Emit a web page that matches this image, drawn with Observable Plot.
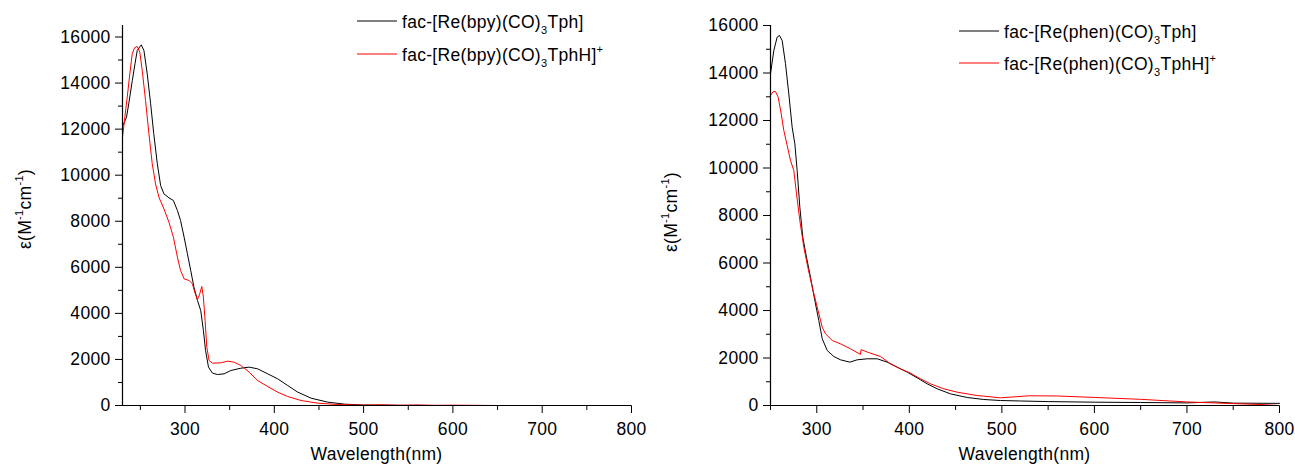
<!DOCTYPE html>
<html><head><meta charset="utf-8">
<script src="https://cdn.jsdelivr.net/npm/d3@7"></script>
<script src="https://cdn.jsdelivr.net/npm/@observablehq/plot@0.6"></script>
<style>
body{margin:0;background:#fff;}
#wrap{display:flex;width:1295px;height:465px;overflow:hidden;background:#fff;}
</style></head><body><div id="wrap"></div>
<script>
// ---------- data ----------
const bpyTphWl = [230,234.5,237,241,244,246.5,251,254,257.7,261.5,265,269,272.7,276.4,282,287,291.5,295,299,302.7,306.4,310,314,317.6,320.6,323,326.3,330.8,336.4,343.8,351.3,362.6,371.9,381.3,392.6,403.8,415,426.3,441.2,460,478.7,500,550,600,700,800];
const bpyTph   = [12115,12520,13100,14110,14840,15415,15660,15415,14400,13100,11800,10495,9553,9190,9020,8900,8467,8033,7310,6586,5862,5138,4559,4125,3257,2388,1665,1404,1346,1375,1520,1620,1665,1592,1375,1158,868,579,318,145,58,20,5,0,0,0];

const bpyTphHWl = [230,232.2,235.3,238.2,240.9,243.5,246.5,249.4,252.1,255.8,259.6,263.3,267,270.8,276.4,282,287,291.5,295,299,304.5,308.3,310.9,313.9,316.5,318.8,320.6,322.5,324.4,327,330.8,340.1,347.6,355,362.6,371.9,381.3,392.6,403.8,415,430,448.8,471,500,520,540,560,580,600,650,800];
const bpyTphH   = [11650,12375,13390,14400,15270,15530,15590,15340,14545,13245,11800,10495,9625,9045,8540,7960,7310,6440,5862,5500,5428,5283,4920,4590,4850,5167,4705,3690,2533,1954,1838,1853,1925,1882,1737,1447,1085,825,579,390,217,101,43,15,30,10,25,5,15,0,0];

const phenTphWl = [250,253.6,257.2,259.7,262.6,266.2,269.8,273.4,276.3,278.8,281.7,284.9,288.9,293.2,297.9,302.2,305.9,311.3,318.4,325.6,335.7,343.7,354.5,365.3,376.1,386.9,397.7,408.5,419.3,430.1,444.5,462.5,480.5,498.5,520,550,600,650,700,730,750,800];
const phenTph   = [13965,14950,15510,15580,15370,14390,13120,11720,11020,9895,8350,7086,6245,5400,4420,3580,2810,2316,2063,1924,1825,1924,1966,1966,1825,1614,1404,1165,912,702,491,337,253,210,190,165,140,125,110,150,100,90];

const phenTphHWl = [250,252.9,255.4,258.3,261.6,264.4,268,271.6,275.2,278.1,281.7,286,290.3,295.1,300.5,305.9,309.4,316.7,325.6,336.4,347.2,347.8,358,368.9,379.7,390.5,401.3,412.1,422.9,437.3,451.7,473.3,498.5,530,560,600,650,700,750,780,800];
const phenTphH   = [13050,13220,13220,12980,12280,11580,10950,10315,9895,8914,7790,6665,5823,4981,4140,3297,3019,2737,2597,2387,2150,2350,2203,2063,1755,1544,1362,1123,912,702,561,421,323,410,400,340,260,150,80,40,0];

const leftXDomain = [230, 800];
const leftYDomain = [0, 16500];
const rightXDomain = [250, 800];
const rightYDomain = [0, 16000];
const xMajorTicks = [300, 400, 500, 600, 700, 800];
const xMinorTicks = [250, 350, 450, 550, 650, 750];
const yMajorTicks = [0, 2000, 4000, 6000, 8000, 10000, 12000, 14000, 16000];
const yMinorTicks = [1000, 3000, 5000, 7000, 9000, 11000, 13000, 15000];

const leftLegend = [
  [["fac-[Re(bpy)(CO)", ""], ["3", "sub"], ["Tph]", ""]],
  [["fac-[Re(bpy)(CO)", ""], ["3", "sub"], ["TphH]", ""], ["+", "sup"]]
];
const rightLegend = [
  [["fac-[Re(phen)(CO)", ""], ["3", "sub"], ["Tph]", ""]],
  [["fac-[Re(phen)(CO)", ""], ["3", "sub"], ["TphH]", ""], ["+", "sup"]]
];
const yLabelParts = [["ε(M", ""], ["-1", "sup"], ["cm", ""], ["-1", "sup"], [")", ""]];
const xLabelText = "Wavelength(nm)";
const seriesColors = ["black", "red"];

const FONT = "'Liberation Sans', Arial, Helvetica, sans-serif";
const FS = 17.5;
const LS = "0.3px";

function toRows(wl, v) { return wl.map((w, i) => ({x: w, y: v[i]})); }

function rich(g, x, y, parts, extra) {
  const t = g.append("text").attr("x", x).attr("y", y)
    .attr("font-family", FONT).attr("font-size", FS).attr("fill", "black")
    .attr("letter-spacing", LS).attr("text-anchor", "start");
  if (extra) extra(t);
  let cur = 0;
  for (const [s, k] of parts) {
    const target = k === "sub" ? 6 : k === "sup" ? -8 : 0;
    const ts = t.append("tspan").attr("dy", target - cur).text(s);
    if (k) ts.attr("font-size", 11);
    cur = target;
  }
  return t;
}

function panel(o) {
  const height = 465;
  const svgNode = Plot.plot({
    width: o.width, height,
    marginLeft: o.marginLeft, marginRight: o.marginRight,
    marginTop: 25, marginBottom: 60,
    style: {fontFamily: FONT, fontSize: FS + "px", letterSpacing: LS, color: "black", background: "white", overflow: "visible"},
    x: {domain: o.xDomain},
    y: {domain: o.yDomain},
    marks: [
      Plot.axisY({ticks: yMajorTicks, tickSize: 7, tickPadding: 5, label: null, tickFormat: d => String(d)}),
      Plot.axisY({ticks: yMinorTicks, tickSize: 4, label: null, tickFormat: () => ""}),
      Plot.axisX({ticks: xMajorTicks, tickSize: 8, tickPadding: 9, label: null, tickFormat: d => String(d)}),
      Plot.axisX({ticks: o.xMinor, tickSize: 5, label: null, tickFormat: () => ""}),
      Plot.line(toRows(o.wl[0], o.vals[0]), {x: "x", y: "y", stroke: seriesColors[0], strokeWidth: 1}),
      Plot.line(toRows(o.wl[1], o.vals[1]), {x: "x", y: "y", stroke: seriesColors[1], strokeWidth: 1}),
      Plot.ruleX([o.xDomain[0]], {stroke: "black", strokeWidth: 1.2}),
      Plot.ruleY([0], {stroke: "black", strokeWidth: 1.2})
    ]
  });
  const svg = d3.select(svgNode);
  const g = svg.append("g").attr("text-anchor", "start");
  // legend
  o.legend.forEach((parts, i) => {
    const yy = o.legendY[i];
    g.append("line").attr("x1", o.legendX).attr("x2", o.legendX + 40)
      .attr("y1", yy).attr("y2", yy).attr("stroke", seriesColors[i]).attr("stroke-width", 1);
    rich(g, o.legendX + 45, yy + 7, parts);
  });
  // x label
  g.append("text").attr("x", (o.marginLeft + o.width - o.marginRight) / 2).attr("y", 460)
    .attr("text-anchor", "middle").attr("font-family", FONT).attr("font-size", FS)
    .attr("letter-spacing", LS).attr("fill", "black").text(xLabelText);
  // y label
  rich(g, 0, 0, yLabelParts, t => t.attr("text-anchor", "middle")
    .attr("transform", `translate(${o.yLabelX},${o.yLabelY}) rotate(-90)`));
  return svgNode;
}

const wrap = document.getElementById("wrap");
wrap.appendChild(panel({
  width: 647, marginLeft: 122, marginRight: 16,
  xDomain: leftXDomain, yDomain: leftYDomain, xMinor: xMinorTicks,
  wl: [bpyTphWl, bpyTphHWl], vals: [bpyTph, bpyTphH],
  legend: leftLegend, legendX: 357, legendY: [21, 54],
  yLabelX: 31, yLabelY: 209
}));
wrap.appendChild(panel({
  width: 648, marginLeft: 123, marginRight: 16,
  xDomain: rightXDomain, yDomain: rightYDomain, xMinor: [250, ...xMinorTicks.slice(1)],
  wl: [phenTphWl, phenTphHWl], vals: [phenTph, phenTphH],
  legend: rightLegend, legendX: 312, legendY: [31, 63],
  yLabelX: 30, yLabelY: 212
}));
</script></body></html>
